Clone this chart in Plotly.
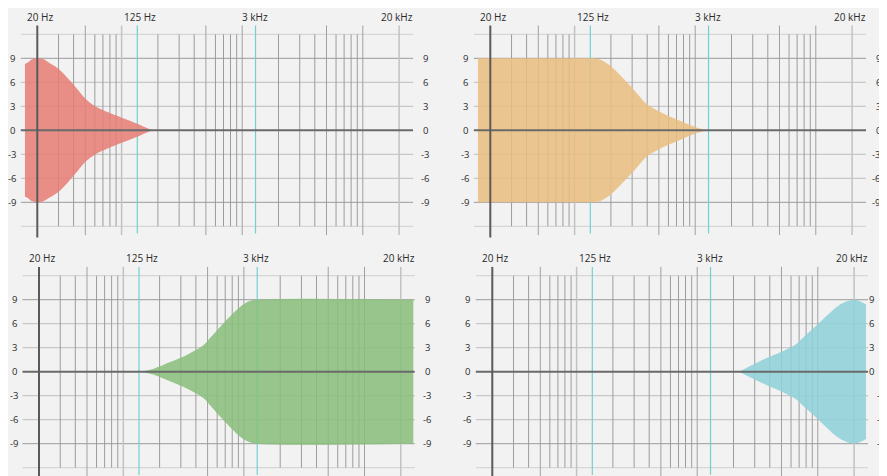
import math
import plotly.graph_objects as go

# ---------------- data ----------------
# frequency grid (Hz)
grid_minor_hz = [30, 40, 60, 70, 80, 90, 200, 300, 400, 600, 700, 800, 900,
                 2000, 3000, 4000, 6000, 7000, 8000, 9000]
grid_major_hz = [50, 500, 1000, 5000, 10000]
grid_major_light_hz = [100, 20000]
band_marks_hz = [135, 1290]
axis_hz = 20
grid_span_hz = [14.6, 26100]

# frequency labels
freq_label_hz = [20, 135, 1290, 20000]
freq_label_text = ["20 Hz", "125 Hz", "3 kHz", "20 kHz"]

# gain grid (dB)
db_ticks = [9, 6, 3, 0, -3, -6, -9]
grid_db_strong = [9, -9]
grid_db_mid = [6, 3, -3, -6]
grid_db_light = [12, -12]

# envelopes (Hz, dB)
low_hz = [15.8, 16.8, 17.7, 20, 22.3, 24.7, 29.9, 36.1, 43.7, 49.7, 56.5, 68.4, 88, 114, 138, 178]
low_db = [8.3, 8.5, 8.8, 9.0, 8.9, 8.5, 7.7, 6.45, 5.0, 4.0, 3.3, 2.6, 1.9, 1.25, 0.75, 0]

lowmid_hz = [15.8, 135, 143, 166, 197, 238, 288, 348, 396, 544, 748, 1028, 1290]
lowmid_db = [9, 9, 9, 8.8, 8.1, 6.9, 5.6, 4.2, 3.3, 2.1, 1.2, 0.35, 0]

highmid_hz = [142, 177, 244, 336, 461, 524, 634, 767, 928, 1102, 1277, 25400]
highmid_db = [0, 0.35, 1.2, 2.1, 3.3, 4.2, 5.6, 6.9, 8.1, 8.8, 9, 9]

high_hz = [2234, 2740, 3770, 5177, 6685, 7584, 9794, 11856, 14350, 16810, 20000, 22390, 25100]
high_db = [0, 0.7, 1.7, 2.6, 3.5, 4.3, 5.8, 7.0, 8.1, 8.7, 9.0, 8.8, 8.4]

# ---------------- layout / style ----------------
PAGE_MARGIN = 8          # default body margin of the html page
SCREEN_W, SCREEN_H = 887, 476
W, H = SCREEN_W - PAGE_MARGIN, SCREEN_H - PAGE_MARGIN
PX_PER_DEC = 120.6
PX_PER_DB = 8.0
BG = "#F2F2F2"
FONT = "Open Sans"

# screen-pixel geometry of each panel
panels = [
    dict(ax="", hz=low_hz, db=low_db, fill="rgba(231,126,117,0.86)",
         xdom=(8, 443), ydom=(8, 240), origin=(37.3, 130.3), rpos=26.5, rneg=26.5),
    dict(ax="2", hz=lowmid_hz, db=lowmid_db, fill="rgba(234,190,128,0.86)",
         xdom=(443, 887), ydom=(8, 240), origin=(490.3, 130.3), rpos=26.5, rneg=24.0),
    dict(ax="3", hz=highmid_hz, db=highmid_db, fill="rgba(136,190,124,0.86)",
         xdom=(8, 443), ydom=(240, 476), origin=(39.0, 371.7), rpos=26.5, rneg=26.5),
    dict(ax="4", hz=high_hz, db=high_db, fill="rgba(142,209,216,0.86)",
         xdom=(443, 887), ydom=(240, 476), origin=(492.3, 371.7), rpos=17.5, rneg=27.5),
]

fig = go.Figure()
annotations = []
L20 = math.log10(20)


def seg_trace(xs, ys, color, width, xa, ya):
    return go.Scatter(x=xs, y=ys, mode="lines", line=dict(color=color, width=width),
                      hoverinfo="skip", showlegend=False, xaxis=xa, yaxis=ya)


def vlines(freqs, lo, hi):
    xs, ys = [], []
    for f in freqs:
        xs += [f, f, None]
        ys += [lo, hi, None]
    return xs, ys


def hlines(levels):
    xs, ys = [], []
    for d in levels:
        xs += [grid_span_hz[0], grid_span_hz[1], None]
        ys += [d, d, None]
    return xs, ys


for p in panels:
    xa = "x" + p["ax"]
    ya = "y" + p["ax"]
    ox, oy = p["origin"]
    dl, dr = p["xdom"][0] - PAGE_MARGIN, p["xdom"][1] - PAGE_MARGIN
    dt, db = p["ydom"][0] - PAGE_MARGIN, p["ydom"][1] - PAGE_MARGIN
    ox -= PAGE_MARGIN
    oy -= PAGE_MARGIN
    x0 = L20 - (ox - dl) / PX_PER_DEC
    x1 = L20 + (dr - ox) / PX_PER_DEC
    ytop = (oy - dt) / PX_PER_DB
    ybot = -(db - oy) / PX_PER_DB

    fig.update_layout(**{
        "xaxis" + p["ax"]: dict(type="log", range=[x0, x1],
                               domain=[dl / W, min(dr / W, 1)],
                               visible=False, anchor=ya, fixedrange=True),
        "yaxis" + p["ax"]: dict(range=[ybot, ytop],
                               domain=[max(1 - db / H, 0), 1 - dt / H],
                               visible=False, anchor=xa, fixedrange=True),
    })

    # horizontal grid
    xs, ys = hlines(grid_db_light)
    fig.add_trace(seg_trace(xs, ys, "#cfcfcf", 1, xa, ya))
    xs, ys = hlines(grid_db_mid)
    fig.add_trace(seg_trace(xs, ys, "#bdbdbd", 1, xa, ya))
    xs, ys = hlines(grid_db_strong)
    fig.add_trace(seg_trace(xs, ys, "#9a9a9a", 1, xa, ya))
    # vertical grid
    xs, ys = vlines(grid_minor_hz, -12, 12)
    fig.add_trace(seg_trace(xs, ys, "#9c9c9c", 1, xa, ya))
    xs, ys = vlines(grid_major_hz, -13.1, 13.1)
    fig.add_trace(seg_trace(xs, ys, "#a0a0a0", 1, xa, ya))
    xs, ys = vlines(grid_major_light_hz, -13.1, 13.1)
    fig.add_trace(seg_trace(xs, ys, "#c2c2c2", 1.5, xa, ya))
    xs, ys = vlines(band_marks_hz, -12.9, 13.1)
    fig.add_trace(seg_trace(xs, ys, "#72d0d2", 1.2, xa, ya))

    # envelope fill
    neg = [-v for v in p["db"]]
    fig.add_trace(go.Scatter(x=p["hz"], y=neg, mode="lines",
                             line=dict(width=0, shape="spline", smoothing=1.0, color=p["fill"]),
                             hoverinfo="skip", showlegend=False, xaxis=xa, yaxis=ya))
    fig.add_trace(go.Scatter(x=p["hz"], y=p["db"], mode="lines", fill="tonexty",
                             fillcolor=p["fill"],
                             line=dict(width=0, shape="spline", smoothing=1.0, color=p["fill"]),
                             hoverinfo="skip", showlegend=False, xaxis=xa, yaxis=ya))

    # axis lines on top
    xs, ys = hlines([0])
    fig.add_trace(seg_trace(xs, ys, "#6a6a6a", 2, xa, ya))
    xs, ys = vlines([axis_hz], -13.4, 13.1)
    fig.add_trace(seg_trace(xs, ys, "#5a5a5a", 2, xa, ya))

    # frequency labels
    shifts = [3, 3, -1, -2]
    for f, t, s in zip(freq_label_hz, freq_label_text, shifts):
        annotations.append(dict(x=math.log10(f), y=14.2, xref=xa, yref=ya, text=t,
                                showarrow=False, xanchor="center", yanchor="middle", xshift=s,
                                font=dict(family=FONT, size=10, color="#2a2a2a")))
    # dB labels
    for d in db_ticks:
        annotations.append(dict(x=math.log10(axis_hz), y=d, xref=xa, yref=ya, text=str(d),
                                showarrow=False, xanchor="center", yanchor="middle", xshift=-25,
                                font=dict(family=FONT, size=9.5, color="#2a2a2a")))
        annotations.append(dict(x=math.log10(freq_label_hz[-1]), y=d, xref=xa, yref=ya, text=str(d),
                                showarrow=False, xanchor="center", yanchor="middle",
                                xshift=p["rpos"] if d >= 0 else p["rneg"],
                                font=dict(family=FONT, size=9.5, color="#2a2a2a")))

fig.update_layout(width=W, height=H, margin=dict(l=0, r=0, t=0, b=0),
                  paper_bgcolor=BG, plot_bgcolor=BG, showlegend=False,
                  annotations=annotations)

fig.write_html("out.html", config={"displayModeBar": False})
